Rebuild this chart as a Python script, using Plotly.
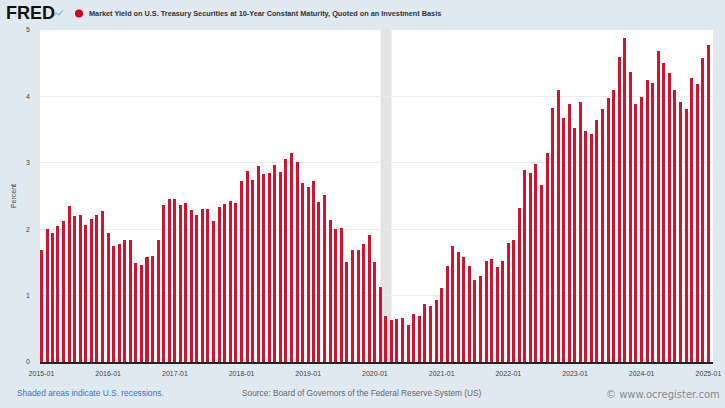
import plotly.graph_objects as go
import pandas as pd

# Monthly observations, 2015-01 .. 2025-01 (percent)
months = pd.date_range("2015-01-01", "2025-01-01", freq="MS").strftime("%Y-%m-%d").tolist()

yields_2015 = [1.68, 2.00, 1.94, 2.05, 2.12, 2.35, 2.20, 2.21, 2.06, 2.16, 2.21, 2.27]
yields_2016 = [1.94, 1.74, 1.78, 1.83, 1.84, 1.49, 1.46, 1.58, 1.60, 1.84, 2.37, 2.45]
yields_2017 = [2.45, 2.36, 2.40, 2.29, 2.21, 2.31, 2.30, 2.12, 2.33, 2.38, 2.42, 2.40]
yields_2018 = [2.72, 2.87, 2.74, 2.95, 2.83, 2.85, 2.96, 2.86, 3.05, 3.15, 3.01, 2.69]
yields_2019 = [2.63, 2.73, 2.41, 2.51, 2.14, 2.00, 2.02, 1.50, 1.68, 1.69, 1.78, 1.92]
yields_2020 = [1.51, 1.13, 0.70, 0.64, 0.65, 0.66, 0.55, 0.72, 0.69, 0.88, 0.84, 0.93]
yields_2021 = [1.11, 1.44, 1.74, 1.65, 1.58, 1.45, 1.24, 1.30, 1.52, 1.55, 1.43, 1.52]
yields_2022 = [1.79, 1.83, 2.32, 2.89, 2.85, 2.98, 2.67, 3.15, 3.83, 4.10, 3.68, 3.88]
yields_2023 = [3.52, 3.92, 3.48, 3.44, 3.64, 3.81, 3.97, 4.09, 4.59, 4.88, 4.37, 3.88]
yields_2024 = [3.99, 4.25, 4.20, 4.69, 4.51, 4.36, 4.09, 3.91, 3.81, 4.28, 4.18, 4.58]
yields_2025 = [4.77]

values = (yields_2015 + yields_2016 + yields_2017 + yields_2018 + yields_2019 +
          yields_2020 + yields_2021 + yields_2022 + yields_2023 + yields_2024 + yields_2025)

recession_start = "2020-02-01"
recession_end = "2020-04-01"

y_ticks = [0, 1, 2, 3, 4, 5]

title_text = "Market Yield on U.S. Treasury Securities at 10-Year Constant Maturity, Quoted on an Investment Basis"
source_text = "Source: Board of Governors of the Federal Reserve System (US)"
recession_note = "Shaded areas indicate U.S. recessions."

BG = "#e1e9f0"
BAR = "#cf1430"

fig = go.Figure()
fig.add_trace(go.Bar(
    x=months, y=values,
    marker=dict(color=BAR, line=dict(width=0)),
    width=16.5 * 86400000,
    hoverinfo="x+y",
))

fig.add_vrect(x0=recession_start, x1=recession_end, fillcolor="#e3e3e3",
              line_width=0, layer="below")

fig.update_layout(
    width=725, height=408,
    margin=dict(l=40, r=12, t=30, b=46),
    paper_bgcolor=BG, plot_bgcolor="white",
    showlegend=False,
    bargap=0,
    font=dict(family="Liberation Sans, Arial, sans-serif", size=7, color="#333"),
    xaxis=dict(
        type="date", automargin=False,
        range=["2014-12-24", "2025-01-26"],
        tick0="2015-01-01", dtick="M12", tickformat="%Y-%m",
        showgrid=False, zeroline=False,
        showline=True, linecolor="#222", linewidth=1.5,
        ticks="", tickfont=dict(size=7, color="#444"),
        ticklabelstandoff=4,
    ),
    yaxis=dict(
        range=[0, 5], tickvals=y_ticks, automargin=False,
        showgrid=True, gridcolor="#ebebeb", gridwidth=1,
        zeroline=False, showline=False, ticks="",
        tickfont=dict(size=7, color="#444"),
        ticklabelstandoff=9,
        title=dict(text="Percent", font=dict(size=7, color="#444"), standoff=8),
    ),
)

PW, PH = 673, 332

def px(x):
    return (x - 40) / PW

def py(y):
    return (362 - y) / PH

# Header: FRED logo, marker dot, title
fig.add_annotation(xref="paper", yref="paper", x=px(4), y=py(13), xanchor="left", yanchor="middle",
                   text="<b>FRED</b>", showarrow=False,
                   font=dict(family="Liberation Sans, Arial", size=18, color="#111"))
# small chart icon next to the logo
fig.add_shape(type="path", xref="paper", yref="paper",
              path="M %f %f L %f %f L %f %f L %f %f" % (
                  px(53), py(17), px(56), py(13), px(59), py(15), px(63), py(10)),
              line=dict(color="#7fb2d9", width=1.2))
fig.add_shape(type="circle", xref="paper", yref="paper",
              x0=px(75), x1=px(83), y0=py(17.5), y1=py(9.5),
              fillcolor="#d0021b", line_width=0)
fig.add_annotation(xref="paper", yref="paper", x=px(87), y=py(13), xanchor="left", yanchor="middle",
                   text="<b>" + title_text + "</b>", showarrow=False,
                   font=dict(family="Liberation Sans, Arial", size=7.3, color="#333"))

# Footer
fig.add_annotation(xref="paper", yref="paper", x=px(15), y=py(393), xanchor="left", yanchor="middle",
                   text=recession_note, showarrow=False,
                   font=dict(size=8.4, color="#3f73b5"))
fig.add_annotation(xref="paper", yref="paper", x=px(240), y=py(393), xanchor="left", yanchor="middle",
                   text=source_text, showarrow=False,
                   font=dict(size=8.3, color="#666"))
fig.add_annotation(xref="paper", yref="paper", x=px(722), y=py(394), xanchor="right", yanchor="middle",
                   text="© www.ocregister.com", showarrow=False,
                   font=dict(family="DejaVu Sans", size=10, color="#8a8a8a"))

fig.write_html("out.html", config={"displayModeBar": False},
               post_script="document.body.style.margin='0';document.body.style.padding='0';")
